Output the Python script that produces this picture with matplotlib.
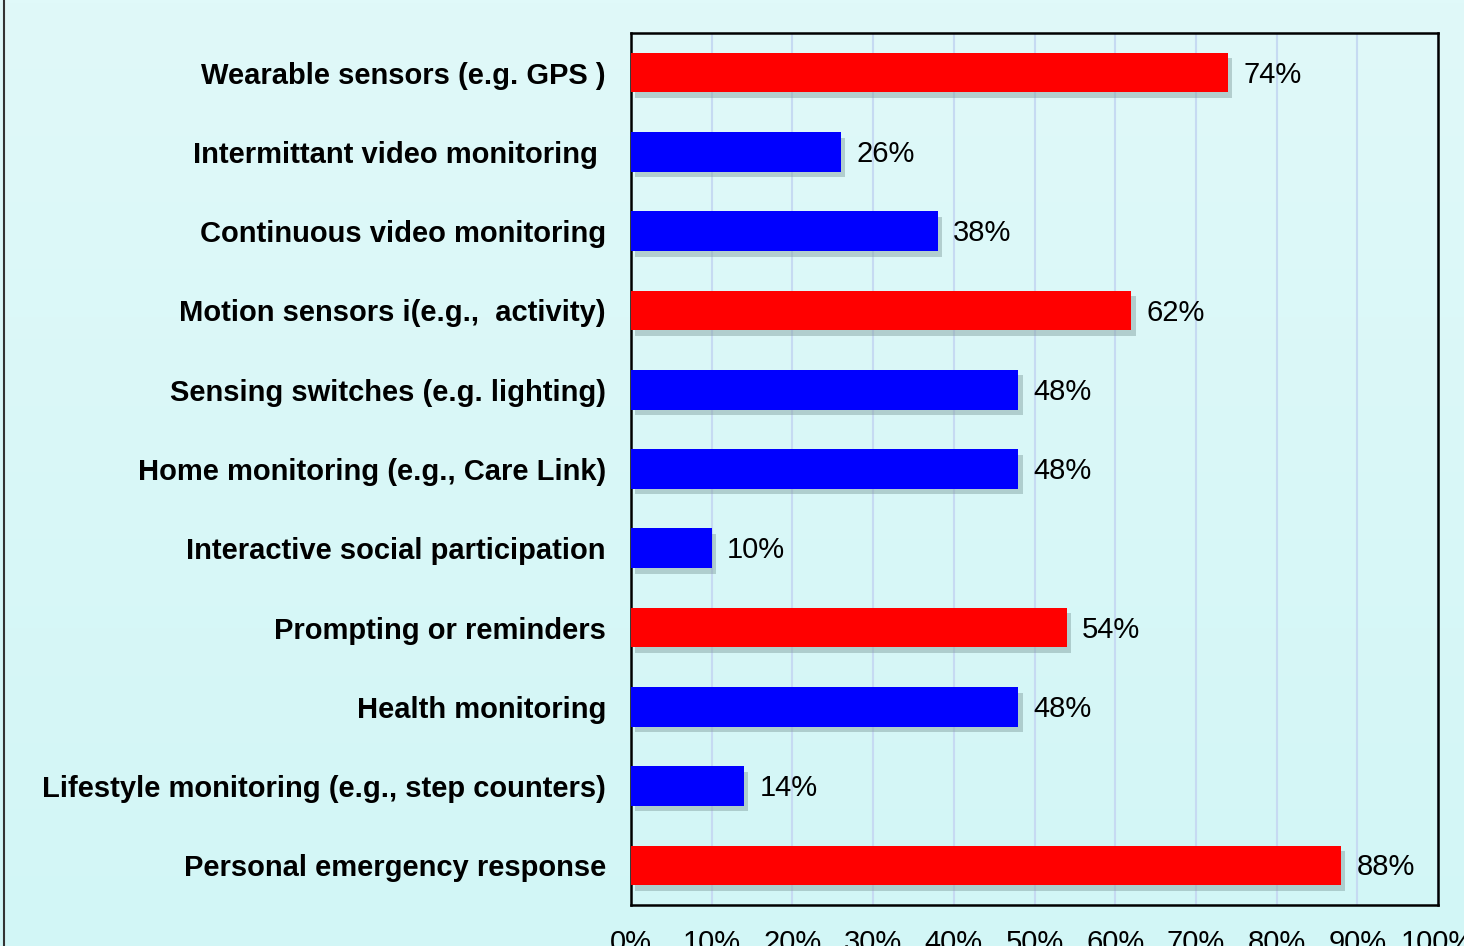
import numpy as np
import matplotlib
matplotlib.use("Agg")
import matplotlib.pyplot as plt
import matplotlib.patheffects as pe
from matplotlib.ticker import PercentFormatter

plt.rcParams['font.family'] = ['Liberation Sans', 'DejaVu Sans']

# data, top to bottom as in the chart
categories = [
    "Wearable sensors (e.g. GPS )",
    "Intermittant video monitoring ",
    "Continuous video monitoring",
    "Motion sensors i(e.g.,  activity)",
    "Sensing switches (e.g. lighting)",
    "Home monitoring (e.g., Care Link)",
    "Interactive social participation",
    "Prompting or reminders",
    "Health monitoring",
    "Lifestyle monitoring (e.g., step counters)",
    "Personal emergency response",
]
values = [0.74, 0.26, 0.38, 0.62, 0.48, 0.48, 0.10, 0.54, 0.48, 0.14, 0.88]
highlight = [True, False, False, True, False, False, False, True, False, False, True]
bar_colors = ["#ff0000" if h else "#0000ff" for h in highlight]

fig = plt.figure(figsize=(14.64, 9.46), dpi=100)

# background gradient for the whole figure
bg = fig.add_axes([0, 0, 1, 1], zorder=-10)
grad = np.linspace(0, 1, 256).reshape(-1, 1)
top_c = np.array([0xe0, 0xf9, 0xf9]) / 255
bot_c = np.array([0xd2, 0xf6, 0xf6]) / 255
img = top_c[None, None, :] * (1 - grad[:, :, None]) + bot_c[None, None, :] * grad[:, :, None]
bg.imshow(img, aspect='auto', extent=[0, 1, 0, 1])
bg.plot([0.0025, 0.0025], [0, 1], color="#333333", lw=1.5)
bg.set_xlim(0, 1)
bg.set_ylim(0, 1)
bg.axis('off')

ax = fig.add_axes([631 / 1464, 1 - 905 / 946, (1438 - 631) / 1464, (905 - 33) / 946])
ax.set_facecolor('none')

y = np.arange(len(categories))
bars = ax.barh(y, values, height=0.5, color=bar_colors, zorder=3)
for b in bars:
    b.set_path_effects([pe.SimplePatchShadow(offset=(3, -4), shadow_rgbFace='#7f9c9c', alpha=0.45),
                        pe.Normal()])

for yi, v in zip(y, values):
    ax.annotate(f"{v:.0%}", (v, yi), xytext=(11, -1.5), textcoords='offset points',
                va='center', ha='left', fontsize=21, color='black', zorder=4)

ax.set_xlim(0, 1)
ax.set_ylim(len(categories) - 0.5, -0.5)
ax.set_xticks(np.arange(0, 1.01, 0.1))
ax.xaxis.set_major_formatter(PercentFormatter(1.0, decimals=0))
ax.set_yticks(y)
ax.set_yticklabels(categories, fontweight='bold')
ax.tick_params(axis='y', length=0, pad=18, labelsize=21)
ax.tick_params(axis='x', length=0, pad=17, labelsize=21)

ax.grid(axis='x', color='#c6daf2', lw=1.5, zorder=0)
ax.set_axisbelow(True)
for s in ax.spines.values():
    s.set_color('black')
    s.set_linewidth(1.8)

fig.savefig("out.png", dpi=100)
